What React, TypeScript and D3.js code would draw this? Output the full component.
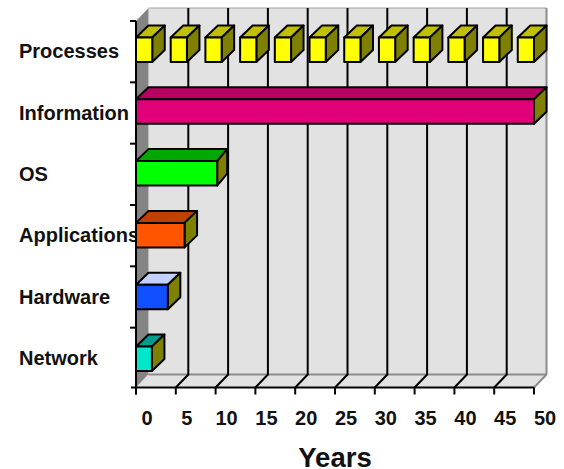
import React from "react";
import * as d3 from "d3";

const categories = ["Processes", "Information", "OS", "Applications", "Hardware", "Network"];
const barValues = [null, 50, 10.2, 6.1, 4, 2];
const barFront = ["#ffff00", "#e0007a", "#00ff00", "#ff5500", "#1050ff", "#00e6c8"];
const barTop = ["#c0c000", "#b80062", "#00a800", "#c04000", "#c4d0ff", "#009c8c"];
const sideColor = "#808000";
const processStarts = [0, 4.36, 8.72, 13.08, 17.44, 21.8, 26.16, 30.52, 34.88, 39.24, 43.6, 47.96];
const processLength = 2.04;
const xTicks = [0, 5, 10, 15, 20, 25, 30, 35, 40, 45, 50];

const W = 564, H = 469;
const x0 = 136, x1 = 534, yTop = 21, yBandEnd = 389, yBot = 387.5;
const dx = 12.5, dy = 13, barDy = 12;

export default function App() {
  const x = d3.scaleLinear().domain([0, 50]).range([x0, x1]);
  const y = d3.scaleBand().domain(categories).range([yTop, yBandEnd]);
  const barY = d3.scalePoint().domain(categories).range([37.5, 346.5]);
  const barH = 24.5;

  const cube = (key: string, a: number, b: number, top: number, front: string, topC: string, rightDx = dx) => {
    const l = x(a), r = x(b), bot = top + barH;
    return (
      <g key={key} stroke="#000" strokeWidth={2} strokeLinejoin="round">
        <polygon points={`${l},${top} ${l + dx},${top - barDy} ${r + rightDx},${top - barDy} ${r},${top}`} fill={topC} />
        <polygon points={`${r},${top} ${r + rightDx},${top - barDy} ${r + rightDx},${bot - barDy} ${r},${bot}`} fill={sideColor} />
        <rect x={l} y={top} width={r - l} height={barH} fill={front} />
      </g>
    );
  };

  return (
    <svg width={W} height={H} style={{ position: "absolute", left: 0, top: 0, background: "#fff" }} fontFamily="'Liberation Sans', Arial, sans-serif">
      {/* back wall */}
      <rect x={x0 + dx} y={yTop - dy} width={x1 - x0} height={yBot - yTop} fill="#e2e2e2" />
      <line x1={x0 + dx} x2={x1 + dx} y1={yTop - dy} y2={yTop - dy} stroke="#a0a0a0" strokeWidth={1} />
      <line x1={x1 + dx} x2={x1 + dx} y1={yTop - dy} y2={yBot - dy} stroke="#8c8c8c" strokeWidth={2} />
      {/* left wall */}
      <polygon points={`${x0},${yTop} ${x0 + dx},${yTop - dy} ${x0 + dx},${yBot - dy} ${x0},${yBot}`} fill="#848484" />
      {/* floor */}
      <polygon points={`${x0},${yBot} ${x0 + dx},${yBot - dy} ${x1 + dx},${yBot - dy} ${x1},${yBot}`} fill="#e2e2e2" />
      <line x1={x0 + dx} x2={x1 + dx} y1={yBot - dy} y2={yBot - dy} stroke="#8c8c8c" strokeWidth={2} />
      <line x1={x1} x2={x1 + dx} y1={yBot} y2={yBot - dy} stroke="#8c8c8c" strokeWidth={2} />
      {/* gridlines */}
      {xTicks.slice(1, -1).map((t) => (
        <path key={t} d={`M${x(t) + dx},${yTop - dy}V${yBot - dy}L${x(t)},${yBot}`} fill="none" stroke="#000" strokeWidth={2} />
      ))}
      {/* category labels sit beneath the bars */}
      {categories.map((c) => (
        <text key={c} x={19} y={(y(c) as number) + y.bandwidth() / 2 + 6.5} fontSize={20} fontWeight="bold" fill="#111">{c}</text>
      ))}
      {/* bars */}
      {categories.map((c, i) => {
        const v = barValues[i];
        if (v === null) return null;
        return cube(c, 0, v, barY(c) as number, barFront[i], barTop[i], c === "OS" ? 10 : dx);
      })}
      {processStarts.map((s, i) => cube("p" + i, s, s + processLength, barY("Processes") as number, barFront[0], barTop[0]))}
      {/* axes */}
      <line x1={x0} x2={x0} y1={yTop} y2={yBot + 7} stroke="#000" strokeWidth={2} />
      <line x1={x0 - 5} x2={x1} y1={yBot} y2={yBot} stroke="#000" strokeWidth={2} />
      {y.domain().map((c) => (
        <line key={c} x1={x0 - 6} x2={x0} y1={y(c) as number} y2={y(c) as number} stroke="#000" strokeWidth={2} />
      ))}
      {xTicks.map((t) => (
        <g key={t}>
          <line x1={x(t)} x2={x(t)} y1={yBot} y2={yBot + 7} stroke="#000" strokeWidth={2} />
          <text x={x(t) + 11} y={424.5} textAnchor="middle" fontSize={20} fontWeight="bold" fill="#111">{t}</text>
        </g>
      ))}
      <text x={335} y={466.5} textAnchor="middle" fontSize={27.5} fontWeight="bold" fill="#111">Years</text>
    </svg>
  );
}
